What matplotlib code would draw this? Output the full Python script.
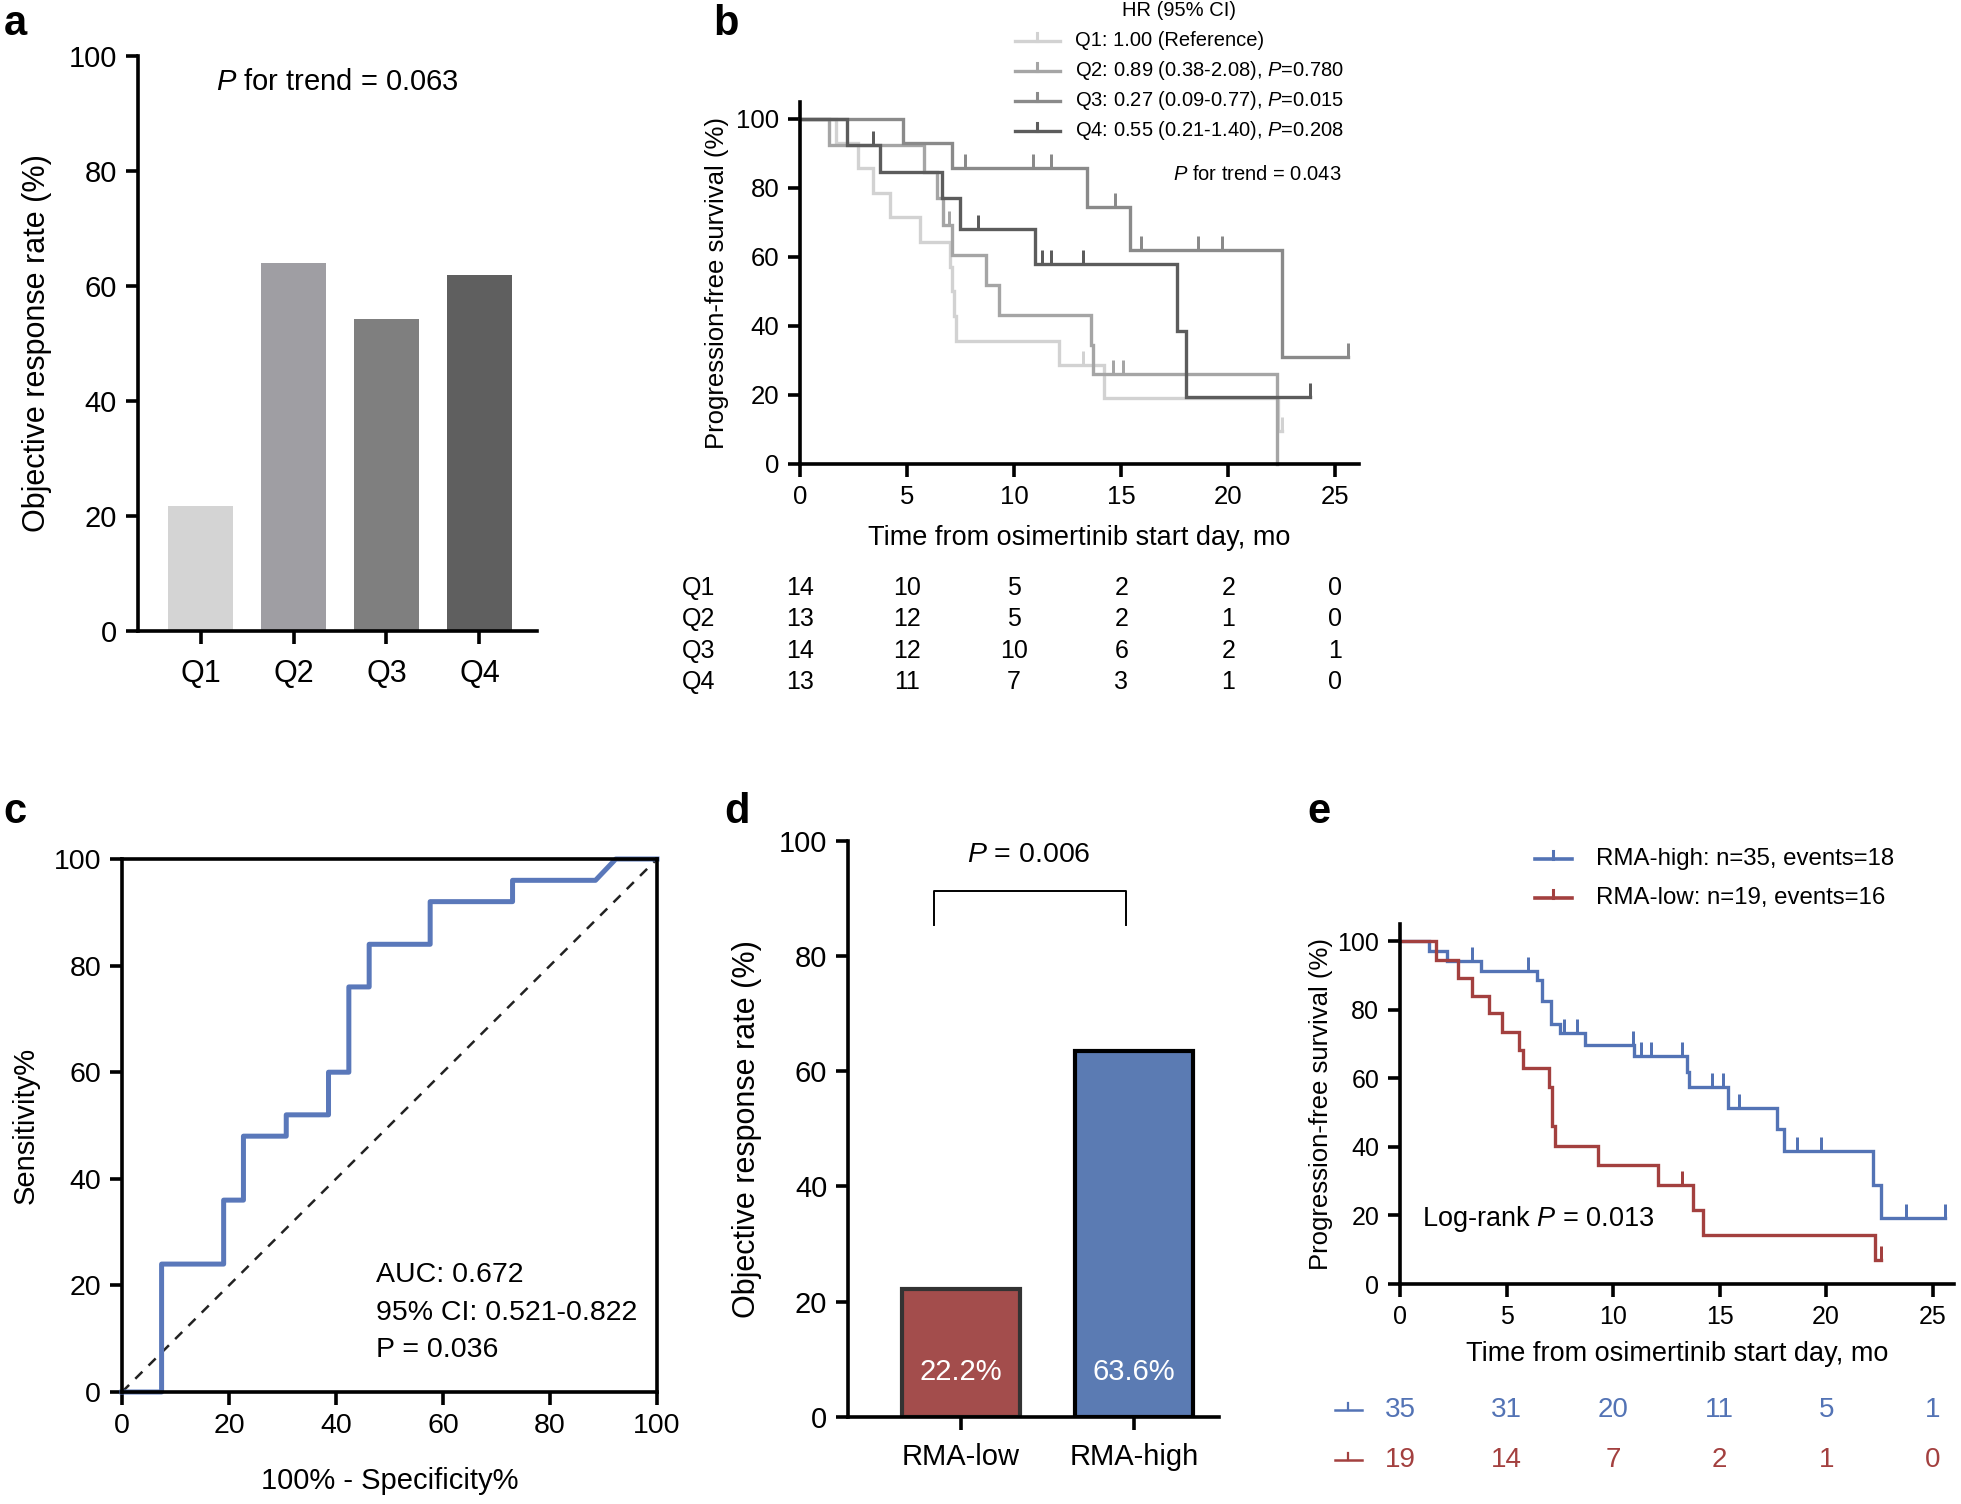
import matplotlib
matplotlib.use('Agg')
import matplotlib.pyplot as plt
import numpy as np
from matplotlib.transforms import blended_transform_factory

plt.rcParams['font.family'] = ['Liberation Sans', 'DejaVu Sans']
plt.rcParams['mathtext.fontset'] = 'custom'
plt.rcParams['mathtext.rm'] = 'Liberation Sans'
plt.rcParams['mathtext.it'] = 'Liberation Sans:italic'

# ---------------- data ----------------
# panel a
quartiles = ['Q1', 'Q2', 'Q3', 'Q4']
orr_quartile = [21.7, 64.0, 54.3, 62.0]
bar_grays = ['#d4d4d4', '#9f9ea3', '#7f7f7f', '#5f5f5f']

# panel b (KM by quartile): event times, survival after event, censor times, end time
q1_t = [1.7, 2.7, 3.4, 4.2, 5.6, 7.0, 7.1, 7.2, 7.3, 12.1, 14.2, 22.3]
q1_s = [92.9, 85.7, 78.6, 71.4, 64.3, 57.1, 50.0, 42.9, 35.7, 28.6, 19.0, 9.5]
q1_c = [13.2, 22.5]
q2_t = [1.37, 5.8, 6.4, 6.7, 7.1, 8.7, 9.3, 13.6, 13.7, 22.25]
q2_s = [92.3, 84.6, 76.9, 69.2, 60.6, 51.8, 43.1, 34.5, 25.9, 0.0]
q2_c = [6.95, 14.6, 15.1]
q3_t = [4.8, 7.1, 13.4, 15.4, 22.5]
q3_s = [92.9, 85.7, 74.5, 62.0, 31.0]
q3_c = [7.7, 10.9, 11.7, 14.7, 15.9, 18.6, 19.7, 25.6]
q4_t = [2.2, 3.75, 6.65, 7.45, 10.95, 17.6, 18.0]
q4_s = [92.3, 84.6, 76.9, 68.0, 57.9, 38.6, 19.3]
q4_c = [3.4, 8.3, 11.3, 11.7, 13.2, 23.8]
km_grays = ['#d2d2d2', '#a5a5a5', '#8a8a8a', '#5c5c5c']
hr_labels = ['Q1: 1.00 (Reference)',
             'Q2: 0.89 (0.38-2.08), $P$=0.780',
             'Q3: 0.27 (0.09-0.77), $P$=0.015',
             'Q4: 0.55 (0.21-1.40), $P$=0.208']
risk_times = [0, 5, 10, 15, 20, 25]
risk_q = [[14, 10, 5, 2, 2, 0],
          [13, 12, 5, 2, 1, 0],
          [14, 12, 10, 6, 2, 1],
          [13, 11, 7, 3, 1, 0]]

# panel c (ROC)
roc_fpr = [0, 7.4, 7.4, 19.0, 19.0, 22.7, 22.7, 30.7, 30.7, 38.6, 38.6, 42.4, 42.4,
           46.2, 46.2, 57.6, 57.6, 73.0, 73.0, 88.5, 92.3, 100]
roc_tpr = [0, 0, 24, 24, 36, 36, 48, 48, 52, 52, 60, 60, 76, 76, 84, 84, 92, 92, 96,
           96, 100, 100]

# panel d
rma_groups = ['RMA-low', 'RMA-high']
rma_orr = [22.2, 63.6]
rma_colors = ['#a34d4c', '#5b7bb3']
rma_edges = ['#333333', '#000000']

# panel e
hi_t = [1.36, 2.2, 3.8, 6.45, 6.66, 7.1, 7.53, 8.7, 10.97, 13.48, 13.58, 15.4,
        17.67, 18.0, 22.2, 22.57]
hi_s = [97.1, 94.3, 91.4, 88.6, 82.6, 75.9, 73.2, 69.8, 66.4, 61.7, 57.4, 51.3,
        45.2, 38.7, 28.9, 19.2]
hi_c = [3.39, 6.0, 7.7, 8.3, 10.92, 11.32, 11.76, 13.23, 14.66, 15.15, 15.93,
        18.63, 19.74, 23.76, 25.57]
lo_t = [1.7, 2.7, 3.39, 4.19, 4.78, 5.58, 5.76, 7.0, 7.15, 7.29, 9.3, 12.1, 13.76,
        14.24, 22.3]
lo_s = [94.4, 89.3, 83.9, 78.9, 73.5, 68.2, 63.0, 57.6, 46.0, 40.3, 34.8, 28.9,
        21.6, 14.3, 7.0]
lo_c = [13.23, 22.57]
risk_hi = [35, 31, 20, 11, 5, 1]
risk_lo = [19, 14, 7, 2, 1, 0]
c_blue = '#5373b5'
c_red = '#a3403f'

# ---------------- figure ----------------
W, H = 1961, 1504
fig = plt.figure(figsize=(W / 100, H / 100), dpi=100)


def rect(l, t, r, b):
    return [l / W, 1 - b / H, (r - l) / W, (b - t) / H]


def fx(px):
    return px / W


def fy(py):
    return 1 - py / H


def style(ax, lw=2.6, size=19, box=False):
    if not box:
        ax.spines['top'].set_visible(False)
        ax.spines['right'].set_visible(False)
    for s in ax.spines.values():
        s.set_linewidth(lw)
    ax.tick_params(direction='out', length=9, width=lw, labelsize=size, pad=6)


def km(ax, times, surv, censors, end, color, lw=2.4):
    t = [0] + list(times) + [end]
    s = [100] + list(surv) + [surv[-1]]
    ax.step(t, s, where='post', color=color, lw=lw, clip_on=False, solid_joinstyle='miter')
    tt = np.array([0] + list(times))
    ss = np.array([100] + list(surv))
    cs = [ss[np.searchsorted(tt, c, side='right') - 1] for c in censors]
    ax.plot(censors, cs, linestyle='none', marker=2, ms=10, mew=lw * 0.9,
            color=color, clip_on=False)


# ---- panel a ----
axa = fig.add_axes(rect(137.5, 56, 537, 631))
style(axa, size=21)
axa.bar(range(4), orr_quartile, width=0.7, color=bar_grays)
axa.set_xlim(-0.68, 3.62)
axa.set_ylim(0, 100)
axa.set_yticks([0, 20, 40, 60, 80, 100])
axa.set_xticks(range(4))
axa.set_xticklabels(quartiles, fontsize=22)
axa.tick_params(axis='x', pad=11)
axa.set_ylabel('Objective response rate (%)', fontsize=22, labelpad=12)
axa.text(0.5, 0.955, '$P$ for trend = 0.063', transform=axa.transAxes,
         ha='center', va='center', fontsize=21)

# ---- panel b ----
axb = fig.add_axes(rect(800, 101.5, 1359, 463.75))
style(axb, size=18.5)
for (t, s, c, e), col in zip([(q1_t, q1_s, q1_c, 22.5), (q2_t, q2_s, q2_c, 22.25),
                              (q3_t, q3_s, q3_c, 25.6), (q4_t, q4_s, q4_c, 23.8)],
                             km_grays):
    km(axb, t, s, c, e, col)
axb.set_xlim(0, 26.1)
axb.set_ylim(0, 105)
axb.set_xticks(risk_times)
axb.set_yticks([0, 20, 40, 60, 80, 100])
axb.set_xlabel('Time from osimertinib start day, mo', fontsize=19.5, labelpad=12)
axb.set_ylabel('Progression-free survival (%)', fontsize=18.5, labelpad=5)
# legend (HR)
fig.text(fx(1179), fy(11), 'HR (95% CI)', ha='center', va='center', fontsize=14.5)
for i, (lab, col) in enumerate(zip(hr_labels, km_grays)):
    yy = 41 + 30 * i
    fig.add_artist(plt.Line2D([fx(1015), fx(1060)], [fy(yy), fy(yy)], color=col, lw=2.4))
    fig.add_artist(plt.Line2D([fx(1037), fx(1037)], [fy(yy), fy(yy - 8)], color=col, lw=2.2))
    fig.text(fx(1075), fy(yy), lab, ha='left', va='center', fontsize=14.5)
fig.text(fx(1341), fy(175), '$P$ for trend = 0.043', ha='right', va='center', fontsize=14.5)
# number at risk
trb = blended_transform_factory(axb.transData, fig.transFigure)
for i, row in enumerate(risk_q):
    yy = 588 + 31.25 * i
    fig.text(fx(682), fy(yy), quartiles[i], ha='left', va='center', fontsize=18)
    for tm, n in zip(risk_times, row):
        fig.text(tm, fy(yy), str(n), ha='center', va='center', fontsize=18,
                 transform=trb)

# ---- panel c ----
axc = fig.add_axes(rect(122, 859, 657, 1392))
style(axc, size=20.5, box=True)
axc.tick_params(top=False, right=False)
axc.plot([0, 100], [0, 100], color='#222222', lw=1.8, linestyle=(0, (4, 3.5)))
axc.plot(roc_fpr, roc_tpr, color='#5a78ba', lw=3.6, clip_on=False)
axc.set_xlim(0, 100)
axc.set_ylim(0, 100)
axc.set_xticks([0, 20, 40, 60, 80, 100])
axc.set_yticks([0, 20, 40, 60, 80, 100])
axc.set_xlabel('100% - Specificity%', fontsize=21, labelpad=20)
axc.set_ylabel('Sensitivity%', fontsize=21, labelpad=10)
for i, s in enumerate(['AUC: 0.672', '95% CI: 0.521-0.822', 'P = 0.036']):
    axc.text(47.5, 22 - 7.1 * i, s, fontsize=20.5, ha='left', va='center')

# ---- panel d ----
axd = fig.add_axes(rect(848, 841, 1219, 1416.7))
style(axd, size=21)
axd.bar([0, 1], rma_orr, width=0.68, color=rma_colors, edgecolor=rma_edges, linewidth=3)
axd.set_xlim(-0.653, 1.49)
axd.set_ylim(0, 100)
axd.set_yticks([0, 20, 40, 60, 80, 100])
axd.set_xticks([0, 1])
axd.set_xticklabels(rma_groups)
axd.tick_params(axis='x', pad=10)
axd.set_ylabel('Objective response rate (%)', fontsize=22, labelpad=12)
for i, v in enumerate(rma_orr):
    axd.text(i, 7.8, f'{v}%', color='white', ha='center', va='center', fontsize=21)
axd.plot([-0.156, -0.156, 0.954, 0.954], [85.4, 91.3, 91.3, 85.4], color='black',
         lw=1.4, clip_on=False)
axd.text(0.39, 97.5, '$P$ = 0.006', ha='center', va='center', fontsize=20.5)

# ---- panel e ----
axe = fig.add_axes(rect(1400, 924, 1954, 1284))
style(axe, size=18)
km(axe, hi_t, hi_s, hi_c, 25.57, c_blue)
km(axe, lo_t, lo_s, lo_c, 22.57, c_red)
axe.set_xlim(0, 26)
axe.set_ylim(0, 105)
axe.set_xticks(risk_times)
axe.set_yticks([0, 20, 40, 60, 80, 100])
axe.set_xlabel('Time from osimertinib start day, mo', fontsize=19.5, labelpad=9)
axe.set_ylabel('Progression-free survival (%)', fontsize=18.5, labelpad=3)
axe.text(1.05, 19, 'Log-rank $P$ = 0.013', fontsize=19.5, ha='left', va='center')
for yy, col, lab in [(859, c_blue, 'RMA-high: n=35, events=18'),
                     (898, c_red, 'RMA-low: n=19, events=16')]:
    fig.add_artist(plt.Line2D([fx(1535), fx(1572)], [fy(yy), fy(yy)], color=col, lw=2.6))
    fig.add_artist(plt.Line2D([fx(1553), fx(1553)], [fy(yy), fy(yy - 8)], color=col, lw=2.2))
    fig.text(fx(1596), fy(yy), lab, ha='left', va='center', fontsize=17.3)
tre = blended_transform_factory(axe.transData, fig.transFigure)
for yy, col, row in [(1410, c_blue, risk_hi), (1460, c_red, risk_lo)]:
    fig.add_artist(plt.Line2D([fx(1335), fx(1362)], [fy(yy), fy(yy)], color=col, lw=1.8))
    fig.add_artist(plt.Line2D([fx(1348), fx(1348)], [fy(yy), fy(yy - 7)], color=col, lw=1.6))
    for tm, n in zip(risk_times, row):
        fig.text(tm, fy(yy), str(n), ha='center', va='center', fontsize=20, color=col,
                 transform=tre)

# ---- panel letters ----
for lab, (x, y) in zip('abcde', [(15, 24), (726, 24), (15, 812), (737, 812), (1319, 812)]):
    fig.text(fx(x), fy(y), lab, fontsize=30, fontweight='bold', ha='center', va='center')

fig.savefig('out.png', dpi=100)
